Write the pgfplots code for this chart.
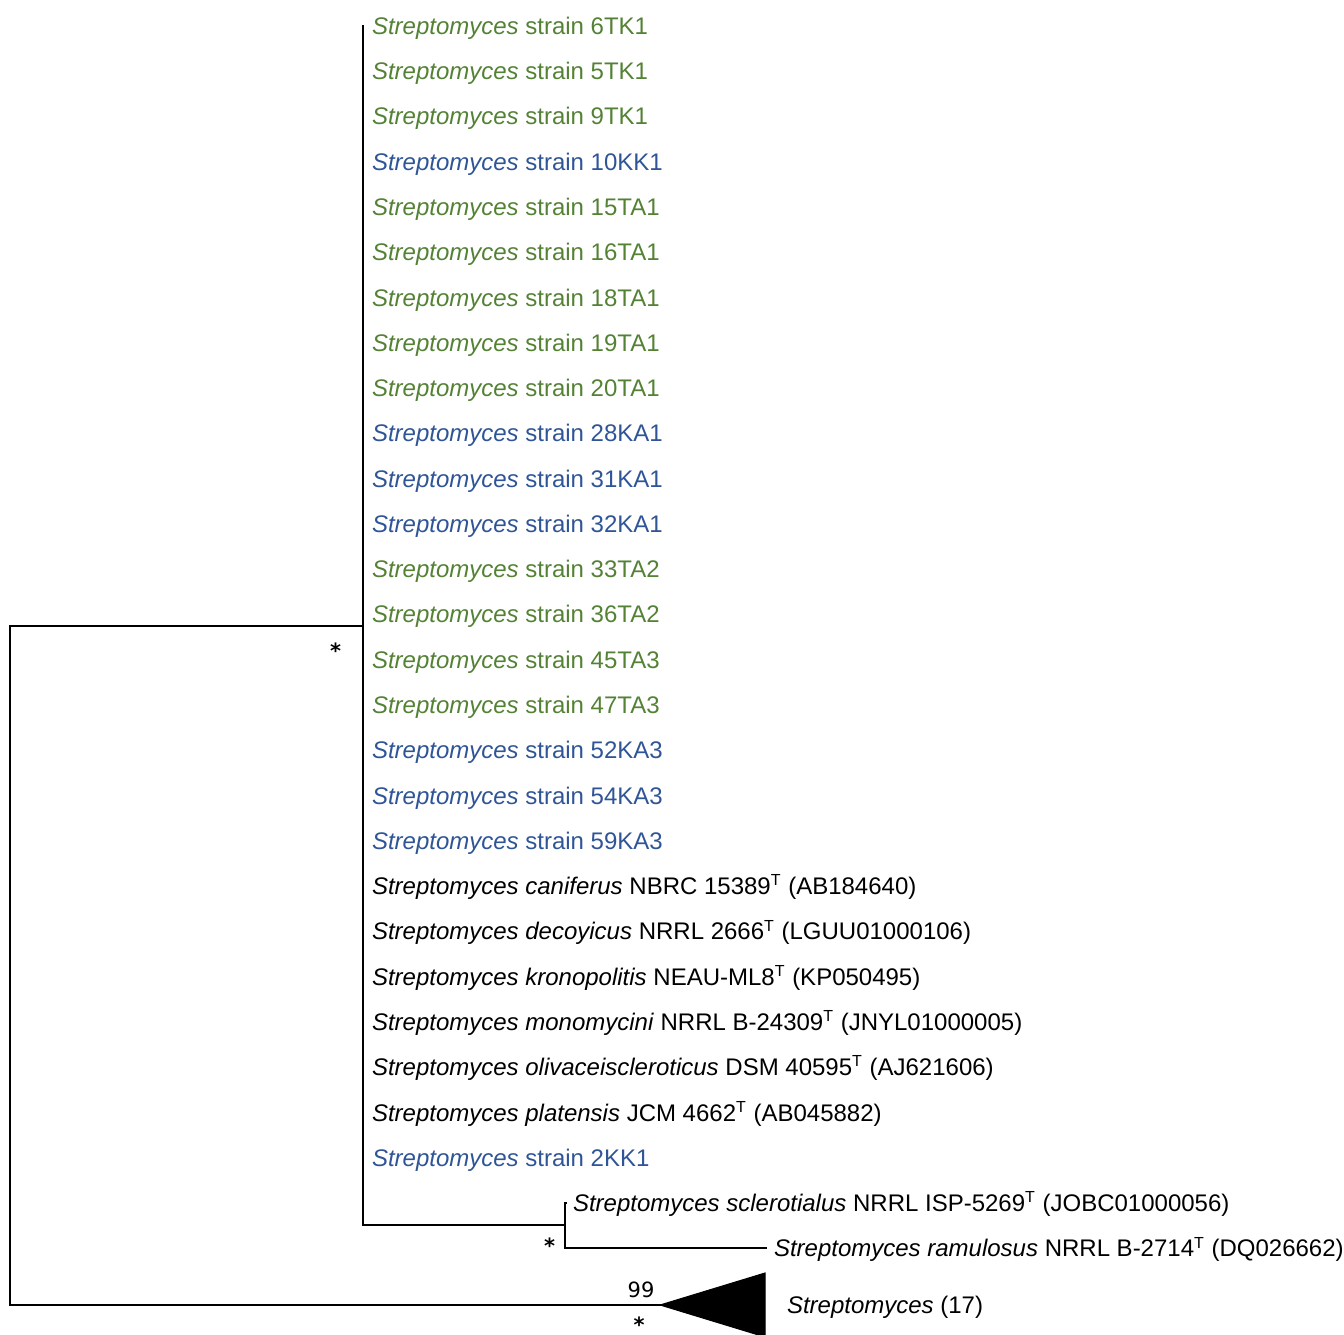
\documentclass[border=0pt]{standalone}
\usepackage{fontspec}
\setmainfont{Liberation Sans}
\newfontfamily\dejavu{DejaVu Sans}
\usepackage{pgfplots}
\pgfplotsset{compat=1.18}
\definecolor{sgreen}{RGB}{84,130,53}
\definecolor{sblue}{RGB}{47,85,151}
\newcommand{\str}{\textit{Streptomyces}}
\tikzset{
  lab/.style={anchor=base west, inner sep=0pt, outer sep=0pt, font=\fontsize{12}{14}\selectfont},
  sup/.style={anchor=base, inner sep=0pt, outer sep=0pt, font=\dejavu\bfseries\fontsize{10.5}{12}\selectfont},
}
\begin{document}
\begin{tikzpicture}
\begin{axis}[
  scale only axis, width=672pt, height=667.5pt,
  xmin=0, xmax=1344, ymin=0, ymax=1335, y dir=reverse,
  axis lines=none, clip=false,
]
% tree branches
\addplot[black, line width=1pt, line join=miter] coordinates {(363,626) (10,626) (10,1305) (662,1305)};
\addplot[black, line width=1pt, line join=miter] coordinates {(363,25) (363,1225) (565,1225)};
\addplot[black, line width=1pt, line join=miter] coordinates {(567,1203) (565,1203) (565,1248) (767,1248)};
% collapsed clade
\addplot[black, fill=black, line width=0.5pt] coordinates {(660,1305) (765,1273) (765,1337) (660,1305)} --cycle;
% support values
\node[sup] at (axis cs:335.5,658.5) {*};
\node[sup] at (axis cs:549.5,1253) {*};
\node[sup] at (axis cs:639,1332) {*};
\node[sup, font=\dejavu\fontsize{10.5}{12}\selectfont] at (axis cs:641,1297) {99};
% leaf labels
\node[lab, text=sgreen] at (axis cs:372,34.5) {\str{} strain 6TK1};
\node[lab, text=sgreen] at (axis cs:372,79.8) {\str{} strain 5TK1};
\node[lab, text=sgreen] at (axis cs:372,125.0) {\str{} strain 9TK1};
\node[lab, text=sblue] at (axis cs:372,170.3) {\str{} strain 10KK1};
\node[lab, text=sgreen] at (axis cs:372,215.6) {\str{} strain 15TA1};
\node[lab, text=sgreen] at (axis cs:372,260.9) {\str{} strain 16TA1};
\node[lab, text=sgreen] at (axis cs:372,306.1) {\str{} strain 18TA1};
\node[lab, text=sgreen] at (axis cs:372,351.4) {\str{} strain 19TA1};
\node[lab, text=sgreen] at (axis cs:372,396.7) {\str{} strain 20TA1};
\node[lab, text=sblue] at (axis cs:372,441.9) {\str{} strain 28KA1};
\node[lab, text=sblue] at (axis cs:372,487.2) {\str{} strain 31KA1};
\node[lab, text=sblue] at (axis cs:372,532.5) {\str{} strain 32KA1};
\node[lab, text=sgreen] at (axis cs:372,577.7) {\str{} strain 33TA2};
\node[lab, text=sgreen] at (axis cs:372,623.0) {\str{} strain 36TA2};
\node[lab, text=sgreen] at (axis cs:372,668.3) {\str{} strain 45TA3};
\node[lab, text=sgreen] at (axis cs:372,713.6) {\str{} strain 47TA3};
\node[lab, text=sblue] at (axis cs:372,758.8) {\str{} strain 52KA3};
\node[lab, text=sblue] at (axis cs:372,804.1) {\str{} strain 54KA3};
\node[lab, text=sblue] at (axis cs:372,849.4) {\str{} strain 59KA3};
\node[lab] at (axis cs:372,894.6) {\textit{Streptomyces caniferus} NBRC 15389\textsuperscript{T} (AB184640)};
\node[lab] at (axis cs:372,939.9) {\textit{Streptomyces decoyicus} NRRL 2666\textsuperscript{T} (LGUU01000106)};
\node[lab] at (axis cs:372,985.2) {\textit{Streptomyces kronopolitis} NEAU-ML8\textsuperscript{T} (KP050495)};
\node[lab] at (axis cs:372,1030.4) {\textit{Streptomyces monomycini} NRRL B-24309\textsuperscript{T} (JNYL01000005)};
\node[lab] at (axis cs:372,1075.7) {\textit{Streptomyces olivaceiscleroticus} DSM 40595\textsuperscript{T} (AJ621606)};
\node[lab] at (axis cs:372,1121.0) {\textit{Streptomyces platensis} JCM 4662\textsuperscript{T} (AB045882)};
\node[lab, text=sblue] at (axis cs:372,1166.3) {\str{} strain 2KK1};
\node[lab] at (axis cs:573,1211.5) {\textit{Streptomyces sclerotialus} NRRL ISP-5269\textsuperscript{T} (JOBC01000056)};
\node[lab] at (axis cs:774,1256.8) {\textit{Streptomyces ramulosus} NRRL B-2714\textsuperscript{T} (DQ026662)};
\node[lab] at (axis cs:787,1313) {\textit{Streptomyces} (17)};
\end{axis}
\pgfresetboundingbox
\path[use as bounding box] (current axis.south west) rectangle (current axis.north east);
\end{tikzpicture}
\end{document}
